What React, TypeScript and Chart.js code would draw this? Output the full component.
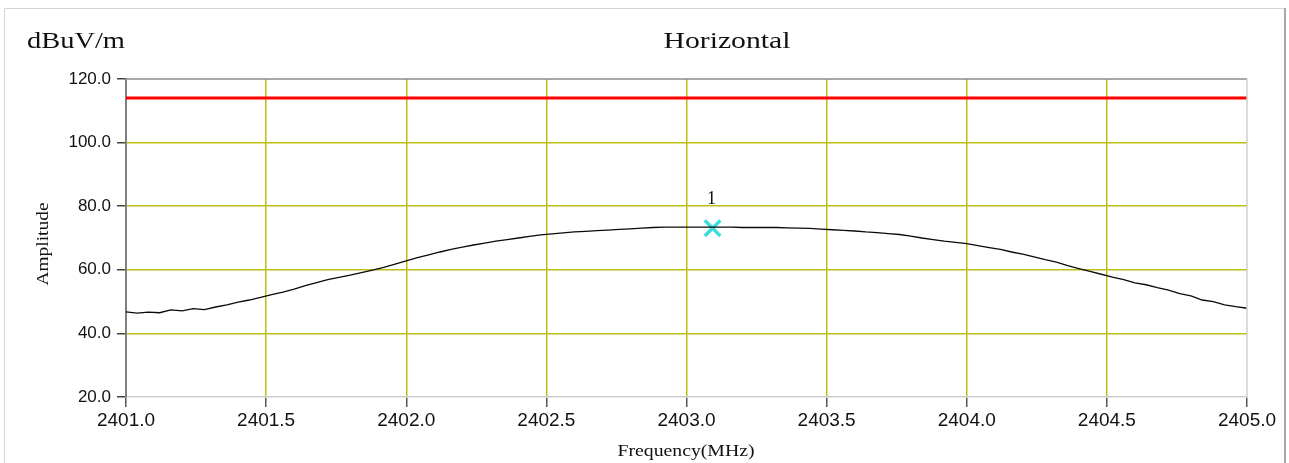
import React, { useEffect, useRef } from "react";
import { Chart, registerables } from "chart.js";

Chart.register(...registerables);

const frequencies: number[] = [
  2401.0, 2401.04, 2401.08, 2401.12, 2401.16, 2401.2, 2401.24, 2401.28, 2401.32, 2401.36,
  2401.4, 2401.44, 2401.48, 2401.52, 2401.56, 2401.6, 2401.64, 2401.68, 2401.72, 2401.76,
  2401.8, 2401.84, 2401.88, 2401.92, 2401.96, 2402.0, 2402.04, 2402.08, 2402.12, 2402.16,
  2402.2, 2402.24, 2402.28, 2402.32, 2402.36, 2402.4, 2402.44, 2402.48, 2402.52, 2402.56,
  2402.6, 2402.64, 2402.68, 2402.72, 2402.76, 2402.8, 2402.84, 2402.88, 2402.92, 2402.96,
  2403.0, 2403.04, 2403.08, 2403.12, 2403.16, 2403.2, 2403.24, 2403.28, 2403.32, 2403.36,
  2403.4, 2403.44, 2403.48, 2403.52, 2403.56, 2403.6, 2403.64, 2403.68, 2403.72, 2403.76,
  2403.8, 2403.84, 2403.88, 2403.92, 2403.96, 2404.0, 2404.04, 2404.08, 2404.12, 2404.16,
  2404.2, 2404.24, 2404.28, 2404.32, 2404.36, 2404.4, 2404.44, 2404.48, 2404.52, 2404.56,
  2404.6, 2404.64, 2404.68, 2404.72, 2404.76, 2404.8, 2404.84, 2404.88, 2404.92, 2404.96,
  2405.0,
];

const amplitude: number[] = [
  46.8, 46.4, 46.7, 46.5, 47.4, 47.1, 47.8, 47.5, 48.3, 49.0,
  49.8, 50.5, 51.3, 52.2, 53.0, 53.9, 55.0, 56.0, 56.9, 57.6,
  58.3, 59.1, 59.9, 60.8, 61.8, 62.8, 63.8, 64.7, 65.6, 66.4,
  67.1, 67.8, 68.4, 69.0, 69.5, 70.0, 70.5, 71.0, 71.3, 71.6,
  71.9, 72.1, 72.3, 72.5, 72.7, 72.9, 73.1, 73.3, 73.4, 73.4,
  73.4, 73.4, 73.4, 73.4, 73.4, 73.3, 73.3, 73.3, 73.3, 73.2,
  73.1, 73.0, 72.8, 72.6, 72.4, 72.2, 71.9, 71.7, 71.4, 71.1,
  70.6, 70.0, 69.5, 69.0, 68.6, 68.2, 67.6, 67.0, 66.4, 65.6,
  64.9, 64.1, 63.2, 62.4, 61.3, 60.4, 59.5, 58.6, 57.7, 56.9,
  55.9, 55.3, 54.4, 53.6, 52.5, 51.8, 50.5, 50.0, 49.0, 48.4,
  47.9,
];

const limitFrequencies: number[] = [2401.0, 2405.0];
const limitValues: number[] = [114.0, 114.0];

const markerFrequency: number[] = [2403.093];
const markerValue: number[] = [73.1];
const markerLabels: string[] = ["1"];

const chartTitle = "Horizontal";
const unitLabel = "dBuV/m";
const yAxisTitle = "Amplitude";
const xAxisTitle = "Frequency(MHz)";

const X_MIN = 2401.0;
const X_MAX = 2405.0;
const Y_MIN = 20;
const Y_MAX = 120;

function drawScaled(
  ctx: CanvasRenderingContext2D,
  text: string,
  cx: number,
  cy: number,
  font: string,
  targetW: number,
  rotate = false
) {
  ctx.save();
  ctx.font = font;
  const w = ctx.measureText(text).width;
  ctx.translate(cx, cy);
  if (rotate) ctx.rotate(-Math.PI / 2);
  ctx.scale(targetW / w, 1);
  ctx.textAlign = "center";
  ctx.textBaseline = "middle";
  ctx.fillStyle = "#111111";
  ctx.fillText(text, 0, 0);
  ctx.restore();
}

const decorPlugin = {
  id: "decor",
  beforeDraw(chart: any) {
    const ctx = chart.ctx as CanvasRenderingContext2D;
    ctx.save();
    ctx.fillStyle = "#ffffff";
    ctx.fillRect(0, 0, chart.width, chart.height);
    ctx.strokeStyle = "#d4d4d4";
    ctx.lineWidth = 1;
    ctx.beginPath();
    ctx.moveTo(4.5, 470);
    ctx.lineTo(4.5, 8.5);
    ctx.lineTo(1284, 8.5);
    ctx.stroke();
    ctx.strokeStyle = "#a8a8a8";
    ctx.lineWidth = 2;
    ctx.beginPath();
    ctx.moveTo(1285, 8);
    ctx.lineTo(1285, 470);
    ctx.stroke();
    ctx.restore();
  },
  afterDraw(chart: any) {
    const ctx = chart.ctx as CanvasRenderingContext2D;
    const a = chart.chartArea;
    ctx.save();
    ctx.strokeStyle = "#8c8c8c";
    ctx.lineWidth = 1.5;
    ctx.beginPath();
    ctx.moveTo(a.left, a.top);
    ctx.lineTo(a.right, a.top);
    ctx.stroke();
    ctx.strokeStyle = "#cfcfcf";
    ctx.beginPath();
    ctx.moveTo(a.right, a.top);
    ctx.lineTo(a.right, a.bottom);
    ctx.stroke();
    ctx.restore();

    drawScaled(ctx, unitLabel, 76, 42, "24px 'Liberation Serif'", 98);
    drawScaled(ctx, chartTitle, 727, 42, "24px 'Liberation Serif'", 127);
    drawScaled(ctx, yAxisTitle, 44, 244, "17px 'Liberation Serif'", 83, true);
    drawScaled(ctx, xAxisTitle, 686, 452, "16px 'Liberation Serif'", 137);

    const xs = chart.scales.x;
    const ys = chart.scales.y;
    markerFrequency.forEach((f, i) => {
      const px = xs.getPixelForValue(f);
      const py = ys.getPixelForValue(markerValue[i]);
      ctx.save();
      ctx.font = "18px 'Liberation Serif'";
      ctx.fillStyle = "#111111";
      ctx.textAlign = "center";
      ctx.textBaseline = "middle";
      ctx.fillText(markerLabels[i], px - 1, py - 29);
      ctx.restore();
    });
  },
};

export default function App() {
  const canvasRef = useRef<HTMLCanvasElement | null>(null);

  useEffect(() => {
    document.body.style.margin = "0";
    const canvas = canvasRef.current;
    if (!canvas) return;

    const traceData = frequencies.map((f, i) => ({ x: f, y: amplitude[i] }));
    const limitData = limitFrequencies.map((f, i) => ({ x: f, y: limitValues[i] }));
    const markerData = markerFrequency.map((f, i) => ({ x: f, y: markerValue[i] }));

    const gridColor = (c: any, min: number, max: number) => {
      const v = c.tick ? c.tick.value : null;
      if (v === null) return "transparent";
      if (Math.abs(v - min) < 1e-6 || Math.abs(v - max) < 1e-6) return "transparent";
      return "#bebe14";
    };

    const chart = new Chart(canvas, {
      type: "line",
      data: {
        datasets: [
          {
            label: "Limit",
            data: limitData,
            borderColor: "#ff0000",
            borderWidth: 3,
            pointRadius: 0,
            tension: 0,
          },
          {
            label: "Trace",
            data: traceData,
            borderColor: "#0a0a0a",
            borderWidth: 1.3,
            pointRadius: 0,
            tension: 0,
          },
          {
            label: "Marker",
            data: markerData,
            showLine: false,
            pointStyle: "crossRot",
            pointRadius: 11,
            pointBorderWidth: 3.5,
            pointBorderColor: "#3ddcdc",
            borderColor: "#3ddcdc",
            backgroundColor: "#3ddcdc",
          },
        ],
      },
      options: {
        responsive: false,
        animation: false,
        layout: { padding: { left: 0, top: 79, right: 42, bottom: 0 } },
        plugins: {
          legend: { display: false },
          title: { display: false },
          tooltip: { enabled: false },
        },
        scales: {
          x: {
            type: "linear",
            min: X_MIN,
            max: X_MAX,
            afterFit: (s: any) => {
              s.height = 66;
            },
            ticks: {
              stepSize: 0.5,
              autoSkip: false,
              maxRotation: 0,
              padding: 2,
              color: "#111111",
              font: { family: "'Liberation Sans'", size: 19 },
              callback: (v: any) => Number(v).toFixed(1),
            },
            grid: {
              color: (c: any) => gridColor(c, X_MIN, X_MAX),
              lineWidth: 1.5,
              drawTicks: true,
              tickLength: 10,
              tickColor: "#555555",
              tickWidth: 1.5,
            },
            border: { display: true, color: "#cfcfcf", width: 1.5 },
          },
          y: {
            type: "linear",
            min: Y_MIN,
            max: Y_MAX,
            afterFit: (s: any) => {
              s.width = 126;
            },
            ticks: {
              stepSize: 20,
              padding: 6,
              color: "#111111",
              font: { family: "'Liberation Sans'", size: 17 },
              callback: (v: any) => Number(v).toFixed(1),
            },
            grid: {
              color: (c: any) => gridColor(c, Y_MIN, Y_MAX),
              lineWidth: 1.5,
              drawTicks: true,
              tickLength: 9,
              tickColor: "#444444",
              tickWidth: 1.5,
            },
            border: { display: true, color: "#808080", width: 2 },
          },
        },
      },
      plugins: [decorPlugin],
    } as any);

    return () => {
      chart.destroy();
    };
  }, []);

  return (
    <div style={{ width: 1289, height: 463, position: "relative" }}>
      <canvas ref={canvasRef} width={1289} height={463} style={{ display: "block" }} />
    </div>
  );
}
